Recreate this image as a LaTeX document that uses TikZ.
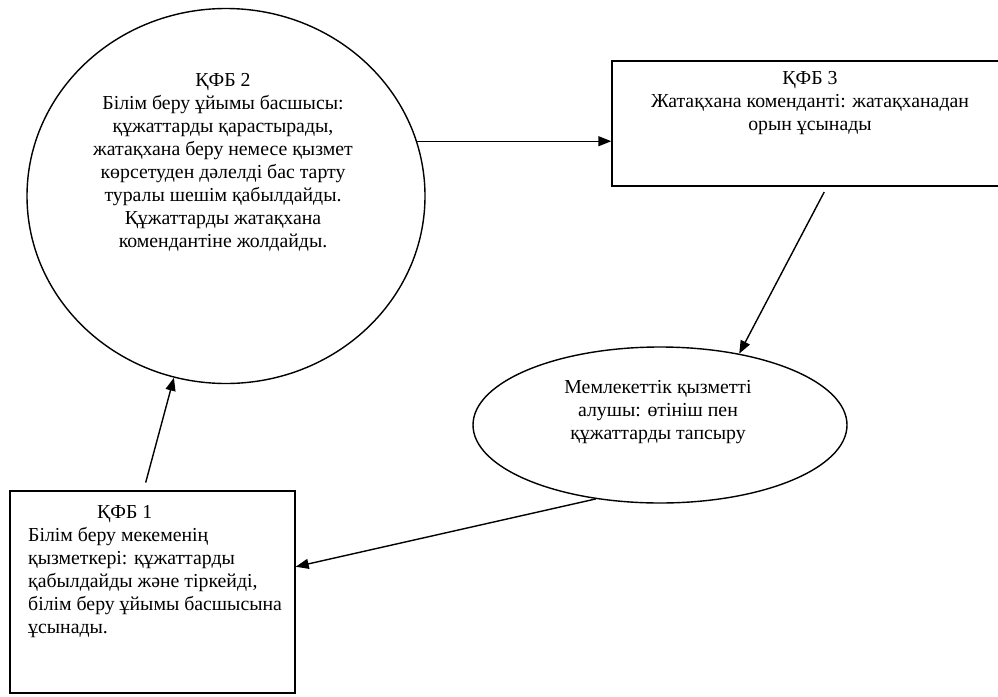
\documentclass[tikz,border=0pt]{standalone}
\usepackage{fontspec}
\setmainfont{Liberation Serif}
\usetikzlibrary{arrows.meta,shapes.geometric}

\begin{document}
\begin{tikzpicture}[x=1pt,y=-1pt,every node/.style={font=\fontsize{19.8}{23}\selectfont},
  blk/.style={draw,line width=1.4pt,inner sep=0pt},
  txt/.style={inner sep=0pt,align=center},
  flow/.style={line width=1.4pt,-{Triangle[length=13pt,width=10pt]}}]
\clip (0,0) rectangle (998,696);
\node[blk,ellipse,minimum width=398pt,minimum height=375pt] (kfb2) at (226,196) {};
\node[blk,rectangle,minimum width=396pt,minimum height=125pt] (kfb3) at (810,123.5) {};
\node[blk,ellipse,minimum width=374pt,minimum height=156pt] (recv) at (660,425) {};
\node[blk,rectangle,minimum width=285pt,minimum height=202pt] (kfb1) at (152.5,592) {};
\node[txt] (kfb2txt) at (223,162.5) {ҚФБ 2\\Білім беру ұйымы басшысы:\\құжаттарды қарастырады,\\жатақхана беру немесе қызмет\\көрсетуден дәлелді бас тарту\\туралы шешім қабылдайды.\\Құжаттарды жатақхана\\комендантіне жолдайды.};
\node[txt] (kfb3txt) at (810,103) {ҚФБ 3\\Жатақхана коменданті: жатақханадан\\орын ұсынады};
\node[txt] (recvtxt) at (658,412) {Мемлекеттік қызметті\\алушы: өтініш пен\\құжаттарды тапсыру};
\node[txt,align=left,anchor=west] (kfb1txt) at (28,571.5) {\hspace{69pt}ҚФБ 1\\Білім беру мекеменің\\қызметкері: құжаттарды\\қабылдайды және тіркейді,\\білім беру ұйымы басшысына\\ұсынады.};
\draw[flow,shorten <=8pt] (kfb1.95) -- (kfb2.254);
\draw[flow] (kfb2.16) -- (kfb2.16 -| kfb3.west);
\draw[flow,shorten <=6pt] ([xshift=17pt]kfb3.south) -- (recv.42);
\draw[flow] (recv.229) -- (kfb1.10);
\end{tikzpicture}
\end{document}
